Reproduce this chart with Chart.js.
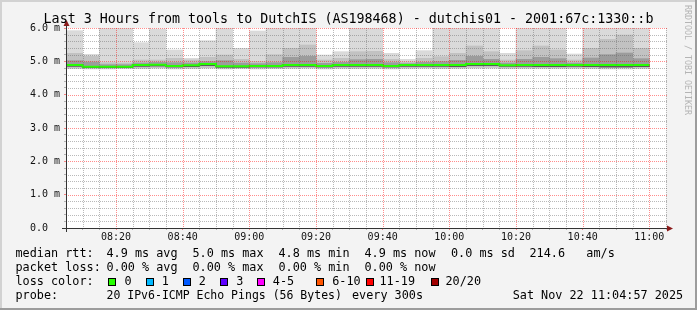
<!DOCTYPE html>
<html>
<head>
<meta charset="utf-8">
<script src="https://cdn.jsdelivr.net/npm/chart.js@4.4.1/dist/chart.umd.min.js"></script>
<style>
body { margin: 0; background: #f3f3f3; }
#box { position: relative; width: 697px; height: 310px; background: #f3f3f3; overflow: hidden;
  font-family: 'DejaVu Sans Mono', monospace; color: #000; }
#box canvas { position: absolute; left: 0; top: 0; }
.t { position: absolute; white-space: pre; line-height: 1; font-size: 11.8px; }
.title { position: absolute; left: 0; top: 12px; width: 697px; text-align: center; white-space: pre;
  line-height: 1; font-size: 13.33px; }
.wm { position: absolute; left: 691.5px; top: 5px; white-space: pre; line-height: 1; font-size: 8.3px;
  color: #b4b4b4; transform-origin: left top; transform: rotate(90deg); }
.sq { position: absolute; top: 278px; width: 6px; height: 6px; border: 1px solid #000; }
.edge { position: absolute; }
</style>
</head>
<body>
<div id="box">
  <canvas id="smoke" width="697" height="310"></canvas>
  <div class="title">Last 3 Hours from tools to DutchIS (AS198468) - dutchis01 - 2001:67c:1330::b</div>
  <div class="wm">RRDTOOL / TOBI OETIKER</div>

  <div class="t" style="left:15.5px;top:247.5px">median rtt:</div>
  <div class="t" style="left:106.5px;top:247.5px">4.9 ms avg</div>
  <div class="t" style="left:192.5px;top:247.5px">5.0 ms max</div>
  <div class="t" style="left:278.5px;top:247.5px">4.8 ms min</div>
  <div class="t" style="left:364.5px;top:247.5px">4.9 ms now</div>
  <div class="t" style="left:451px;top:247.5px">0.0 ms sd</div>
  <div class="t" style="left:529.5px;top:247.5px">214.6   am/s</div>

  <div class="t" style="left:15.5px;top:261.7px">packet loss:</div>
  <div class="t" style="left:106.5px;top:261.7px">0.00 % avg</div>
  <div class="t" style="left:192.5px;top:261.7px">0.00 % max</div>
  <div class="t" style="left:278.5px;top:261.7px">0.00 % min</div>
  <div class="t" style="left:364.5px;top:261.7px">0.00 % now</div>

  <div class="t" style="left:15.5px;top:275.8px">loss color:</div>
  <div class="sq" style="left:108px;background:#26ff00"></div>
  <div class="t" style="left:124.5px;top:275.8px">0</div>
  <div class="sq" style="left:145.5px;background:#00b8ff"></div>
  <div class="t" style="left:161.8px;top:275.8px">1</div>
  <div class="sq" style="left:182.5px;background:#0059ff"></div>
  <div class="t" style="left:198.8px;top:275.8px">2</div>
  <div class="sq" style="left:220px;background:#5e00ff"></div>
  <div class="t" style="left:236.2px;top:275.8px">3</div>
  <div class="sq" style="left:257px;background:#ff00ff"></div>
  <div class="t" style="left:272.8px;top:275.8px">4-5</div>
  <div class="sq" style="left:316px;background:#ff5500"></div>
  <div class="t" style="left:332.2px;top:275.8px">6-10</div>
  <div class="sq" style="left:365.5px;background:#ff0000"></div>
  <div class="t" style="left:379.5px;top:275.8px">11-19</div>
  <div class="sq" style="left:430.5px;background:#a10000"></div>
  <div class="t" style="left:445.5px;top:275.8px">20/20</div>

  <div class="t" style="left:15.5px;top:290px">probe:</div>
  <div class="t" style="left:106.5px;top:290.2px;font-size:11.5px">20 IPv6-ICMP Echo Pings (56 Bytes)</div>
  <div class="t" style="left:352px;top:290px">every 300s</div>
  <div class="t" style="left:512.7px;top:290px">Sat Nov 22 11:04:57 2025</div>

  <div class="edge" style="left:0;top:0;width:697px;height:2px;background:#d2d2d2"></div>
  <div class="edge" style="left:0;top:0;width:2px;height:310px;background:#d2d2d2"></div>
  <div class="edge" style="left:695px;top:0;width:2px;height:310px;background:#9c9c9c"></div>
  <div class="edge" style="left:0;top:308px;width:697px;height:2px;background:#9c9c9c"></div>
</div>
<script>
// time axis: 08:05 .. 11:05, one sample every 5 minutes
var stepMinutes = 5;
var spanMinutes = 180;
var xTickLabels = ['08:20', '08:40', '09:00', '09:20', '09:40', '10:00', '10:20', '10:40', '11:00'];
var yTickLabels = ['0.0  ', '1.0 m', '2.0 m', '3.0 m', '4.0 m', '5.0 m', '6.0 m'];

// rtt in ms, per 5 minute slot (35 slots, 08:05 - 11:00)
var rttMedian = [4.89, 4.84, 4.84, 4.84, 4.89, 4.90, 4.86, 4.88, 4.92, 4.85, 4.85, 4.86,
                 4.86, 4.89, 4.89, 4.86, 4.89, 4.89, 4.89, 4.86, 4.89, 4.89, 4.89, 4.89,
                 4.92, 4.92, 4.88, 4.89, 4.89, 4.89, 4.89, 4.89, 4.89, 4.89, 4.89];
var rttMax = [5.92, 5.21, 6.00, 6.00, 5.56, 5.97, 5.34, 5.09, 5.62, 6.00, 5.39, 5.91,
              6.00, 6.00, 6.00, 5.19, 5.29, 6.00, 6.00, 5.24, 5.06, 5.32, 6.00, 6.00,
              6.00, 6.00, 5.24, 6.00, 6.00, 6.00, 5.22, 6.00, 6.00, 6.00, 6.00];
var rttUpper = [5.24, 5.15, 4.96, 4.95, 5.04, 5.04, 5.09, 5.04, 5.12, 5.19, 5.06, 4.99,
                5.20, 5.39, 5.49, 5.04, 5.09, 5.29, 5.30, 5.06, 4.98, 5.09, 5.14, 5.24,
                5.46, 5.29, 5.04, 5.32, 5.46, 5.34, 5.04, 5.39, 5.66, 5.79, 5.39];
var rttHigh = [5.02, 4.98, 4.90, 4.90, 4.95, 4.97, 4.96, 4.95, 4.99, 5.02, 4.95, 4.93,
               4.96, 5.12, 5.15, 4.94, 4.97, 5.05, 5.06, 4.96, 4.93, 4.97, 4.99, 5.03,
               5.15, 5.06, 4.95, 5.06, 5.12, 5.08, 4.95, 5.10, 5.20, 5.25, 5.08];
var rttNear = [4.85, 4.81, 4.81, 4.81, 4.85, 4.86, 4.83, 4.84, 4.87, 4.82, 4.82, 4.83,
               4.83, 4.85, 4.85, 4.83, 4.85, 4.85, 4.85, 4.83, 4.85, 4.85, 4.85, 4.84,
               4.87, 4.87, 4.85, 4.85, 4.84, 4.84, 4.85, 4.84, 4.83, 4.83, 4.84];
var rttLow = [4.80, 4.79, 4.79, 4.80, 4.80, 4.81, 4.80, 4.80, 4.81, 4.79, 4.80, 4.80,
              4.80, 4.81, 4.81, 4.80, 4.81, 4.80, 4.81, 4.80, 4.81, 4.81, 4.80, 4.81,
              4.82, 4.82, 4.80, 4.81, 4.81, 4.80, 4.81, 4.80, 4.80, 4.81, 4.80];
var rttMin = [4.78, 4.77, 4.77, 4.78, 4.78, 4.79, 4.77, 4.78, 4.79, 4.77, 4.78, 4.77,
              4.78, 4.78, 4.79, 4.77, 4.78, 4.78, 4.78, 4.77, 4.78, 4.79, 4.78, 4.78,
              4.79, 4.79, 4.78, 4.78, 4.78, 4.79, 4.78, 4.78, 4.77, 4.77, 4.78];

function band(lo, hi) {
  return lo.map(function (v, i) {
    return { x: i * stepMinutes + stepMinutes / 2, y: [v, hi[i]] };
  });
}
var medianPts = rttMedian.map(function (v, i) { return { x: i * stepMinutes, y: v }; });
medianPts.push({ x: rttMedian.length * stepMinutes, y: rttMedian[rttMedian.length - 1] });

function isMajorY(v) { return Math.abs(v - Math.round(v)) < 1e-6; }
function isMajorX(t) { return (t + 5) % 20 === 0; }
var MGRID = 'rgba(255,0,0,0.45)';
var GRID = 'rgba(100,100,100,0.45)';
var font = { family: "'DejaVu Sans Mono', monospace", size: 10 };

// white canvas, dotted grid on top of the smoke, axes and arrows like rrdtool
var frame = {
  id: 'frame',
  beforeDraw: function (chart) {
    var ctx = chart.ctx, a = chart.chartArea;
    ctx.save();
    ctx.fillStyle = '#ffffff';
    ctx.fillRect(a.left, a.top, a.right - a.left, a.bottom - a.top);
    ctx.restore();
  },
  afterDatasetsDraw: function (chart) {
    var ctx = chart.ctx, a = chart.chartArea;
    var xs = chart.scales.x, ys = chart.scales.y;
    ctx.save();
    ctx.lineWidth = 1;
    ctx.setLineDash([1, 1]);
    xs.ticks.forEach(function (tk) {
      var px = Math.round(xs.getPixelForValue(tk.value)) + 0.5;
      ctx.strokeStyle = isMajorX(tk.value) ? MGRID : GRID;
      ctx.beginPath(); ctx.moveTo(px, a.top); ctx.lineTo(px, a.bottom); ctx.stroke();
    });
    ys.ticks.forEach(function (tk) {
      var py = Math.round(ys.getPixelForValue(tk.value)) + 0.5;
      ctx.strokeStyle = isMajorY(tk.value) ? MGRID : GRID;
      ctx.beginPath(); ctx.moveTo(a.left, py); ctx.lineTo(a.right + 2, py); ctx.stroke();
    });
    ctx.restore();
  },
  afterDraw: function (chart) {
    var ctx = chart.ctx, a = chart.chartArea;
    ctx.save();
    ctx.strokeStyle = '#333333';
    ctx.lineWidth = 1;
    ctx.beginPath();
    ctx.moveTo(a.left - 4, a.bottom + 0.5); ctx.lineTo(a.right + 2, a.bottom + 0.5);
    ctx.moveTo(a.left + 0.5, a.bottom + 4); ctx.lineTo(a.left + 0.5, a.top - 3);
    ctx.stroke();
    ctx.fillStyle = '#8b1a1a';
    ctx.beginPath();
    ctx.moveTo(a.right + 1, a.bottom - 2.5); ctx.lineTo(a.right + 7, a.bottom + 0.5); ctx.lineTo(a.right + 1, a.bottom + 3.5);
    ctx.fill();
    ctx.beginPath();
    ctx.moveTo(a.left - 2.5, a.top - 2); ctx.lineTo(a.left + 0.5, a.top - 8); ctx.lineTo(a.left + 3.5, a.top - 2);
    ctx.fill();
    ctx.restore();
  }
};

new Chart(document.getElementById('smoke'), {
  type: 'bar',
  data: {
    datasets: [
      { type: 'line', data: medianPts, borderColor: '#26ff00', borderWidth: 2, stepped: true,
        pointRadius: 0, fill: false, order: 1 },
      { data: band(rttNear, rttMedian), backgroundColor: '#5a5a5a', order: 2 },
      { data: band(rttNear, rttHigh), backgroundColor: '#9c9c9c', order: 3 },
      { data: band(rttLow, rttUpper), backgroundColor: '#c2c2c2', order: 4 },
      { data: band(rttMin, rttMax), backgroundColor: '#dadada', order: 5 }
    ]
  },
  options: {
    responsive: false,
    animation: false,
    devicePixelRatio: 1,
    layout: { padding: { left: 0, right: 31, top: 28, bottom: 0 } },
    datasets: { bar: { grouped: false, barPercentage: 1, categoryPercentage: 1 } },
    plugins: { legend: { display: false }, tooltip: { enabled: false }, title: { display: false } },
    scales: {
      x: {
        type: 'linear', min: 0, max: spanMinutes, offset: false,
        afterFit: function (s) { s.height = 82; },
        border: { display: false },
        grid: {
          drawOnChartArea: false, offset: false, tickLength: 2,
          tickColor: function (c) { return isMajorX(c.tick.value) ? MGRID : GRID; }
        },
        ticks: {
          stepSize: stepMinutes, autoSkip: false, maxRotation: 0, padding: 1,
          color: '#111', font: font,
          callback: function (t) { return isMajorX(t) ? xTickLabels[(t - 15) / 20] : ''; }
        }
      },
      y: {
        min: 0, max: 6,
        afterFit: function (s) { s.width = 66; },
        border: { display: false },
        grid: {
          drawOnChartArea: false, tickLength: 2,
          tickColor: function (c) { return isMajorY(c.tick.value) ? MGRID : GRID; }
        },
        ticks: {
          stepSize: 0.2, autoSkip: false, padding: 4,
          color: '#111', font: font,
          callback: function (v) { return isMajorY(v) ? yTickLabels[Math.round(v)] : ''; }
        }
      }
    }
  },
  plugins: [frame]
});
</script>
</body>
</html>
